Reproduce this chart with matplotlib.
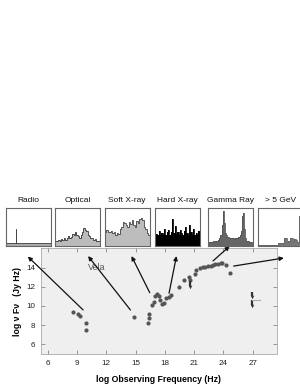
import matplotlib
matplotlib.use("Agg")
import matplotlib.pyplot as plt

plt.rcParams['font.family'] = ['Liberation Sans', 'DejaVu Sans']

# ---- data ----
vela_freq = [8.55, 9.05, 9.3, 9.9, 9.9, 14.8, 16.3, 16.33, 16.36, 16.69, 16.86, 17.03,
             17.2, 17.37, 17.55, 17.71, 17.88, 18.09, 18.43, 18.67, 19.5, 19.97, 20.48,
             20.55, 21.06, 21.23, 21.57, 21.91, 22.16, 22.43, 22.7, 22.94, 23.18, 23.45,
             23.73, 23.9, 24.24, 24.72]
vela_flux = [9.35, 9.2, 8.9, 8.2, 7.5, 8.87, 8.25, 8.75, 9.15, 10.1, 10.45, 11.1,
             11.26, 11.05, 10.63, 10.2, 10.35, 10.8, 10.98, 11.12, 11.97, 12.74, 13.09,
             12.74, 13.37, 13.79, 13.96, 14.07, 14.14, 14.18, 14.21, 14.32, 14.39, 14.46,
             14.49, 14.49, 14.32, 13.44]
ul_freq = [20.55, 26.9, 26.9]
ul_flux = [12.6, 11.5, 10.6]
tev_range = [26.9, 27.8]
tev_flux = [10.6, 10.6]

x_ticks = [6, 9, 12, 15, 18, 21, 24, 27]
y_ticks = [6, 8, 10, 12, 14]

band_names = ["Radio", "Optical", "Soft X-ray", "Hard X-ray", "Gamma Ray", "> 5 GeV"]
radio_prof = [0.07] * 18 + [0.45] + [0.07] * 61
optical_prof = [0.14, 0.12, 0.16, 0.13, 0.18, 0.15, 0.2, 0.17, 0.22, 0.27, 0.2, 0.25, 0.32,
                0.28, 0.36, 0.3, 0.26, 0.22, 0.3, 0.38, 0.47, 0.42, 0.4, 0.3, 0.26, 0.22,
                0.2, 0.17, 0.18, 0.14, 0.13, 0.12]
soft_prof = [0.38, 0.42, 0.38, 0.36, 0.4, 0.33, 0.36, 0.3, 0.35, 0.32, 0.45, 0.5, 0.62,
             0.6, 0.55, 0.5, 0.64, 0.58, 0.68, 0.55, 0.5, 0.66, 0.6, 0.72, 0.74, 0.68, 0.5,
             0.45, 0.35, 0.3]
hard_prof = [0.25, 0.32, 0.28, 0.4, 0.3, 0.35, 0.28, 0.45, 0.3, 0.38, 0.42, 0.3, 0.36,
             0.72, 0.35, 0.52, 0.32, 0.38, 0.3, 0.42, 0.35, 0.28, 0.4, 0.5, 0.33, 0.3, 0.55,
             0.36, 0.3, 0.45, 0.28, 0.35, 0.3, 0.4]
gamma_prof = [0.1, 0.1, 0.11, 0.1, 0.12, 0.11, 0.12, 0.13, 0.14, 0.16, 0.2, 0.3, 0.55,
              0.92, 0.6, 0.35, 0.28, 0.25, 0.24, 0.22, 0.2, 0.21, 0.2, 0.19, 0.2, 0.21,
              0.22, 0.24, 0.28, 0.4, 0.8, 0.86, 0.45, 0.2, 0.14, 0.12, 0.11, 0.1, 0.1, 0.09]
gev_prof = [0.03, 0.03, 0.03, 0.03, 0.03, 0.03, 0.03, 0.03, 0.03, 0.03, 0.03, 0.03, 0.03,
            0.08, 0.08, 0.08, 0.08, 0.2, 0.2, 0.1, 0.12, 0.22, 0.22, 0.12, 0.18, 0.15,
            0.1, 0.8, 0.8, 0.15]
profiles = [radio_prof, optical_prof, soft_prof, hard_prof, gamma_prof, gev_prof]
fill_colors = ["#aaaaaa", "#bbbbbb", "#bdbdbd", "#000000", "#666666", "#777777"]
edge_colors = ["#444444", "#333333", "#444444", "#000000", "#555555", "#666666"]

# arrows: (tail in data coords, head in data coords)
arrow_tails = [(9.62, 9.58), (14.47, 9.58), (16.45, 11.4), (18.43, 11.34), (22.94, 14.74), (25.06, 14.2)]
arrow_heads = [(3.95, 15.2), (10.13, 15.25), (14.58, 15.25), (19.19, 15.25), (24.65, 16.3), (30.2, 15.05)]

W, H = 300, 388
fig = plt.figure(figsize=(3.0, 3.88), dpi=100)
fig.patch.set_facecolor("white")

ax = fig.add_axes([41 / W, 1 - 354 / H, 236 / W, 106 / H])
ax.set_facecolor("#efefef")
ax.set_xlim(5.3, 29.5)
ax.set_ylim(4.95, 16.1)
ax.set_xticks(x_ticks)
ax.set_yticks(y_ticks)
ax.tick_params(direction="in", length=3, width=0.6, color="#888888", labelsize=5.8,
               top=True, right=True, pad=4, labelcolor="#222222")
for s in ax.spines.values():
    s.set_color("#aaaaaa")
    s.set_linewidth(0.6)

ax.plot(vela_freq, vela_flux, "o", color="#555555", markersize=3, markeredgewidth=0)
for xu, yu in zip(ul_freq, ul_flux):
    ax.plot([xu, xu], [yu, yu - 0.45], color="#333333", lw=1.6, solid_capstyle="butt")
    ax.plot(xu, yu - 0.55, "v", color="#333333", markersize=2.5, markeredgewidth=0)
ax.plot(tev_range, tev_flux, color="#aaaaaa", lw=0.8)

ax.text(11.0, 14.1, "Vela", fontsize=6.5, color="#555555", ha="center", va="center")
ax.set_xlabel("log Observing Frequency (Hz)", fontsize=6.3, fontweight="bold", labelpad=6)
ax.set_ylabel("log ν Fν   (Jy Hz)", fontsize=6.3, fontweight="bold", labelpad=3)

for (tx, ty), (hx, hy) in zip(arrow_tails, arrow_heads):
    ax.annotate("", xy=(hx, hy), xytext=(tx, ty), xycoords="data", textcoords="data",
                annotation_clip=False,
                arrowprops=dict(arrowstyle="-|>", color="#111111", lw=0.9,
                                mutation_scale=6, shrinkA=0, shrinkB=0))

# inset panels
panel_left = [5.7, 55.3, 104.7, 154.7, 208.0, 258.3]
panel_w = 45
for i, name in enumerate(band_names):
    pax = fig.add_axes([panel_left[i] / W, 1 - 246 / H, panel_w / W, 38 / H])
    prof = profiles[i]
    xs = list(range(len(prof) + 1))
    pax.stairs(prof, xs, fill=True, color=fill_colors[i])
    pax.stairs(prof, xs, color=edge_colors[i], lw=0.6)
    pax.set_xlim(0, len(prof))
    pax.set_ylim(0, 1)
    pax.set_xticks([])
    pax.set_yticks([])
    pax.set_facecolor("white")
    for s in pax.spines.values():
        s.set_color("#666666")
        s.set_linewidth(0.8)
    pax.set_title(name, fontsize=6, pad=4, color="#111111")

fig.savefig("out.png", dpi=100)
